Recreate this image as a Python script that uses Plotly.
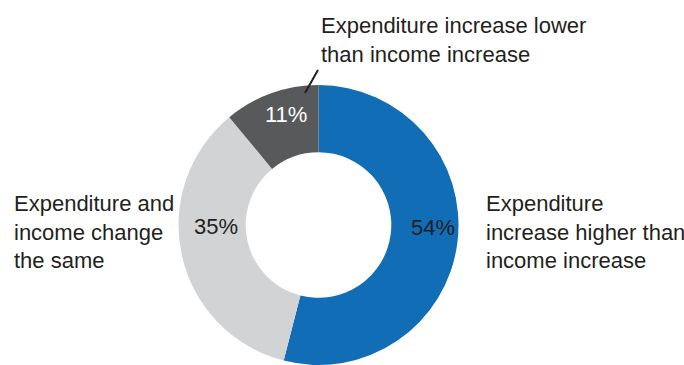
import plotly.graph_objects as go

# Share of households by how expenditure changed relative to income
categories = [
    "Expenditure increase higher than income increase",
    "Expenditure and income change the same",
    "Expenditure increase lower than income increase",
]
shares = [54, 35, 11]
slice_colors = ["#106DB6", "#D1D3D4", "#58595B"]
pct_text_colors = ["#231F20", "#231F20", "#FFFFFF"]

# Category captions, broken over lines as printed
captions = [
    "Expenditure<br>increase higher than<br>income increase",
    "Expenditure and<br>income change<br>the same",
    "Expenditure increase lower<br>than income increase",
]

W, H = 684, 365
FONT = "Liberation Sans, Arial, Helvetica, sans-serif"
TEXT = "#231F20"


def px(x):
    return x / W


def py(y):
    return 1 - y / H


fig = go.Figure(
    go.Pie(
        labels=categories,
        values=shares,
        hole=0.52,
        sort=False,
        direction="clockwise",
        rotation=0,
        marker=dict(colors=slice_colors, line=dict(width=0)),
        textinfo="none",
        hoverinfo="label+percent",
        domain=dict(x=[px(178.5), px(458.5)], y=[0, 280 / H]),
        showlegend=False,
    )
)

annotations = []

# Percentage labels on the ring
pct_pos = [(433, 227), (216, 226), (286, 115)]
for v, (x, y), c in zip(shares, pct_pos, pct_text_colors):
    annotations.append(
        dict(
            x=px(x), y=py(y), xref="paper", yref="paper",
            text=f"{v}%", showarrow=False,
            xanchor="center", yanchor="middle",
            font=dict(family=FONT, size=22, color=c),
        )
    )

# Category captions
cap_pos = [(484, 232), (12, 232), (319, 40)]
for t, (x, y) in zip(captions, cap_pos):
    annotations.append(
        dict(
            x=px(x), y=py(y), xref="paper", yref="paper",
            text=t, showarrow=False, align="left",
            xanchor="left", yanchor="middle",
            font=dict(family=FONT, size=22, color=TEXT),
        )
    )

fig.update_layout(
    width=W,
    height=H,
    margin=dict(l=0, r=0, t=0, b=0),
    paper_bgcolor="white",
    plot_bgcolor="white",
    annotations=annotations,
    shapes=[
        # leader from the small slice to its caption
        dict(
            type="line", xref="paper", yref="paper",
            x0=px(305), y0=py(93), x1=px(318), y1=py(70),
            line=dict(color=TEXT, width=2),
        )
    ],
)

fig.write_html("out.html")
